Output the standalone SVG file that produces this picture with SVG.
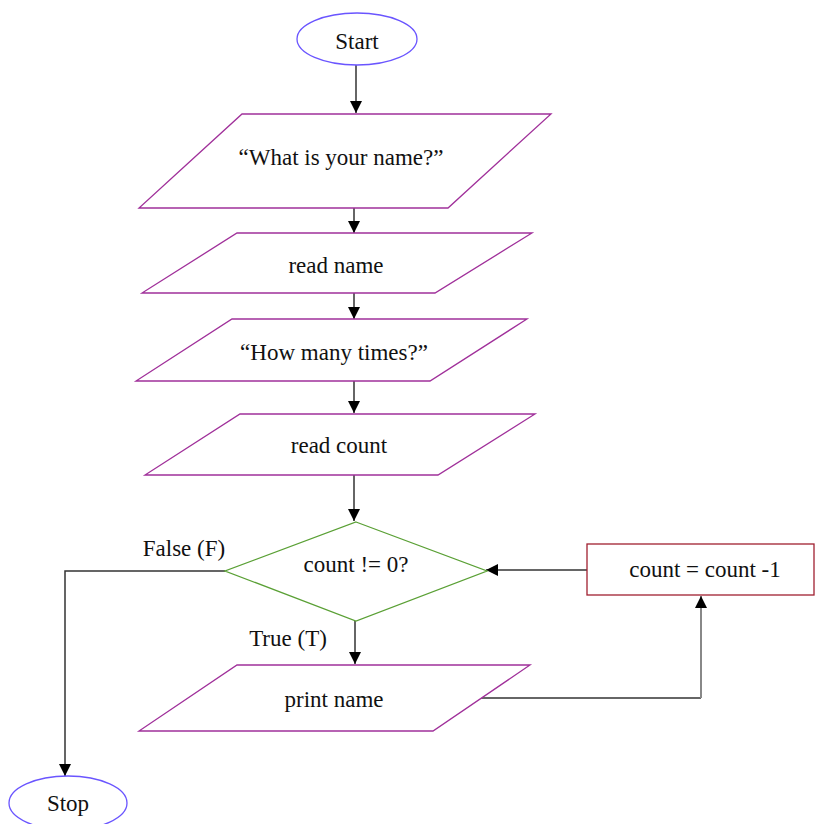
<svg xmlns="http://www.w3.org/2000/svg" width="815" height="824" viewBox="0 0 815 824">
<style>
.t{font-family:"Liberation Serif","Times New Roman",serif;font-size:23px;fill:#111;text-anchor:middle;dominant-baseline:central}
.term{fill:#fff;stroke:#6a55ff;stroke-width:1.3}
.io{fill:#fff;stroke:#a0309a;stroke-width:1.3}
.dec{fill:#fff;stroke:#5aa035;stroke-width:1.3}
.proc{fill:#fff;stroke:#a02030;stroke-width:1.3}
.c{fill:none;stroke:#333;stroke-width:1.5}
.g{fill:none;stroke:#888;stroke-width:2}
</style>
<defs>
<marker id="ah2" viewBox="0 0 10 10" refX="10" refY="5" markerWidth="12" markerHeight="12" markerUnits="userSpaceOnUse" orient="auto"><path d="M0,0 L10,5 L0,10 z" fill="#000"/></marker>
</defs>
<rect width="815" height="824" fill="#fff"/>
<g id="connectors">
<line class="c" x1="356" y1="65" x2="356" y2="113" marker-end="url(#ah2)"/>
<line class="c" x1="354" y1="208" x2="354" y2="233" marker-end="url(#ah2)"/>
<line class="c" x1="354" y1="293" x2="354" y2="319" marker-end="url(#ah2)"/>
<line class="c" x1="354" y1="381" x2="354" y2="413" marker-end="url(#ah2)"/>
<line class="c" x1="354" y1="475" x2="354" y2="521" marker-end="url(#ah2)"/>
<polyline class="c" points="225,571 65,571 65,776" marker-end="url(#ah2)"/>
<line class="c" x1="355" y1="621" x2="355" y2="664" marker-end="url(#ah2)"/>
<polyline class="c" points="481,698 701,698"/>
<line class="g" x1="701" y1="698" x2="701" y2="596" marker-end="url(#ah2)"/>
<line class="c" x1="587" y1="570" x2="486" y2="570" marker-end="url(#ah2)"/>
<text class="t" x="184" y="548">False (F)</text>
<text class="t" x="288" y="638">True (T)</text>
</g>
<g id="start"><ellipse class="term" cx="357" cy="39" rx="60" ry="26"/><text class="t" x="357" y="41">Start</text></g>
<g id="ask-name"><polygon class="io" points="242,114 551,114 448,208 139,208"/><text class="t" x="341" y="157">“What is your name?”</text></g>
<g id="read-name"><polygon class="io" points="237,233 532,233 435,293 142,293"/><text class="t" x="336" y="265">read name</text></g>
<g id="ask-times"><polygon class="io" points="232,319 527,319 430,381 136,381"/><text class="t" x="334" y="352">“How many times?”</text></g>
<g id="read-count"><polygon class="io" points="240,414 535,414 438,475 145,475"/><text class="t" x="339" y="445">read count</text></g>
<g id="decision"><polygon class="dec" points="356,522 487,571 356,621 225,571"/><text class="t" x="356" y="564">count != 0?</text></g>
<g id="print-name"><polygon class="io" points="237,665 530,665 433,731 139,731"/><text class="t" x="334" y="699">print name</text></g>
<g id="decrement"><rect class="proc" x="587" y="544" width="227" height="51"/><text class="t" x="705" y="569">count = count -1</text></g>
<g id="stop"><ellipse class="term" cx="68" cy="803" rx="59" ry="27"/><text class="t" x="68" y="803">Stop</text></g>
</svg>
